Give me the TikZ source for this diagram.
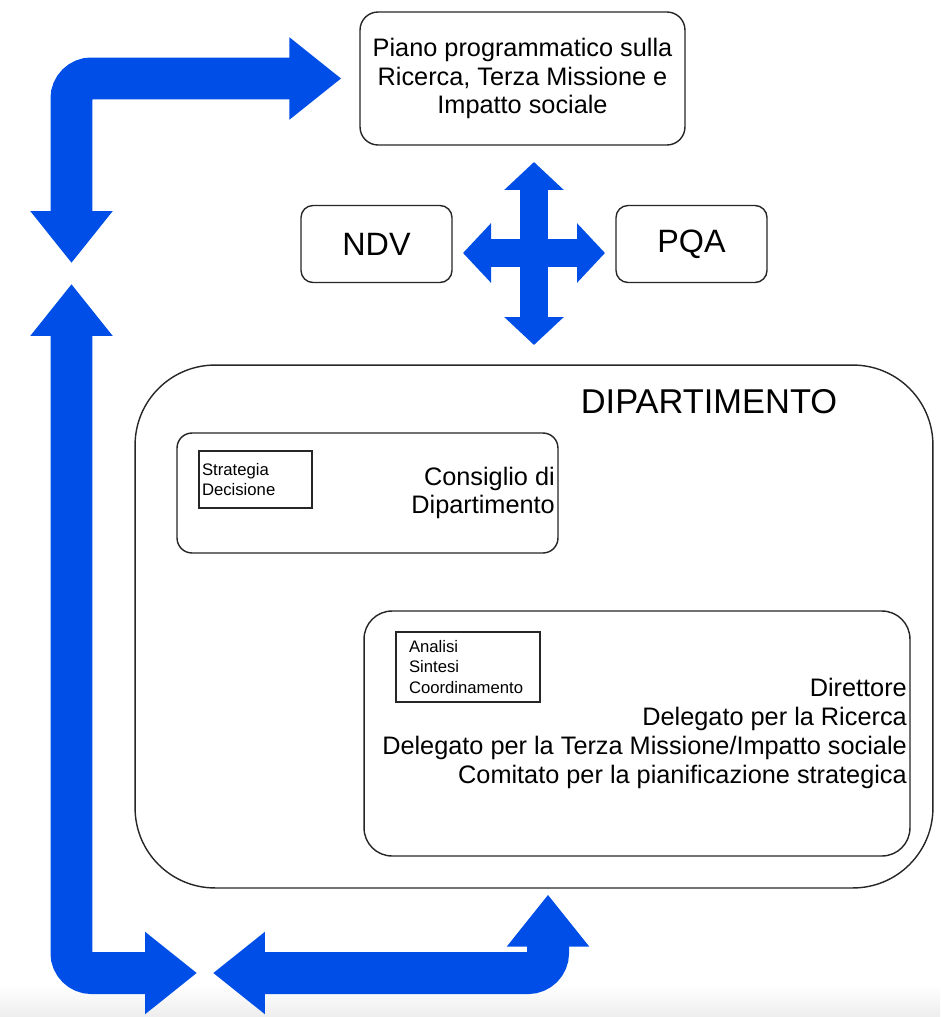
\documentclass[tikz,border=0pt]{standalone}
\usepackage{fontspec}
\setmainfont{Liberation Sans}
\usepackage{tikz}
\usetikzlibrary{arrows.meta,positioning}
\definecolor{flowblue}{RGB}{0,78,232}

\begin{document}
\begin{tikzpicture}[
    x=0.02cm, y=-0.02cm,
    panel/.style={draw=black!85, line width=0.8pt, rounded corners=0.3cm, fill=white},
    tagbox/.style={draw=black!85, line width=0.8pt, align=left, inner ysep=0pt, font=\fontsize{9.5}{11.4}\selectfont},
    bigtext/.style={font=\fontsize{14.4}{16.4}\selectfont},
    headtext/.style={font=\fontsize{18.4}{22}\selectfont},
    bigarrow/.style={draw=flowblue, line width=0.84cm, rounded corners=0.4cm,
        {Triangle[width=1.58cm,length=1.04cm]}-{Triangle[width=1.58cm,length=1.04cm]}},
    crossarrow/.style={draw=flowblue, line width=0.56cm,
        {Triangle[width=1.16cm,length=0.56cm]}-{Triangle[width=1.16cm,length=0.56cm]}}
]
\useasboundingbox (0,0) rectangle (940,1017);
\shade[top color=white, bottom color=black!7] (0,985) rectangle (940,1017);

\node[panel, rounded corners=0.36cm, minimum width=6.5cm, minimum height=2.66cm, align=center, bigtext] (plan) at (522.5,78.5) {Piano programmatico sulla\\Ricerca, Terza Missione e\\Impatto sociale};
\node[panel, rounded corners=0.24cm, minimum width=3.02cm, minimum height=1.54cm, headtext] (ndv) at (376.5,244) {NDV};
\node[panel, rounded corners=0.24cm, minimum width=3.02cm, minimum height=1.54cm, headtext] (pqa) at (691.5,244) {PQA};

\node[panel, rounded corners=1.6cm, minimum width=15.96cm, minimum height=10.46cm] (dept) at (534,626.5) {};
\node[headtext, font=\fontsize{19.6}{23}\selectfont] (deptlbl) at (709,402) {DIPARTIMENTO};
\node[panel, minimum width=7.62cm, minimum height=2.4cm] (consiglio) at (367.5,493) {};
\node[bigtext, align=right, anchor=east, inner sep=2pt] (consigliolbl) at (consiglio.east) {Consiglio di\\Dipartimento};
\node[tagbox, text width=2.14cm, inner xsep=0.06cm, minimum height=1.14cm] (strategia) at (255.5,479.5) {Strategia\\Decisione};
\node[panel, rounded corners=0.56cm, minimum width=10.92cm, minimum height=4.9cm] (direttore) at (637,733.5) {};
\node[tagbox, text width=2.36cm, inner xsep=0.26cm, minimum height=1.4cm] (analisi) at (468,667) {Analisi\\Sintesi\\Coordinamento};
\node[bigtext, align=right, anchor=east, inner sep=2pt] (direttorelbl) at (direttore.east) {Direttore\\Delegato per la Ricerca\\Delegato per la Terza Missione/Impatto sociale\\Comitato per la pianificazione strategica};

\coordinate (loopA) at (71.5,263);
\coordinate (loopB) at (71.5,284);
\coordinate (midL) at (197,973);
\coordinate (midR) at (213,973);
\coordinate (hubN) at (534,162);
\coordinate (hubS) at (534,345);
\coordinate (hubW) at (463,253);
\coordinate (hubE) at (605,253);

\draw[bigarrow] (loopA) |- ([xshift=-0.36cm]plan.west);
\draw[bigarrow] (loopB) |- (midL);
\draw[bigarrow] (midR) -| ([xshift=0.28cm,yshift=-0.12cm]dept.south);
\draw[crossarrow] (hubN) -- (hubS);
\draw[crossarrow] (hubW) -- (hubE);
\end{tikzpicture}
\end{document}
